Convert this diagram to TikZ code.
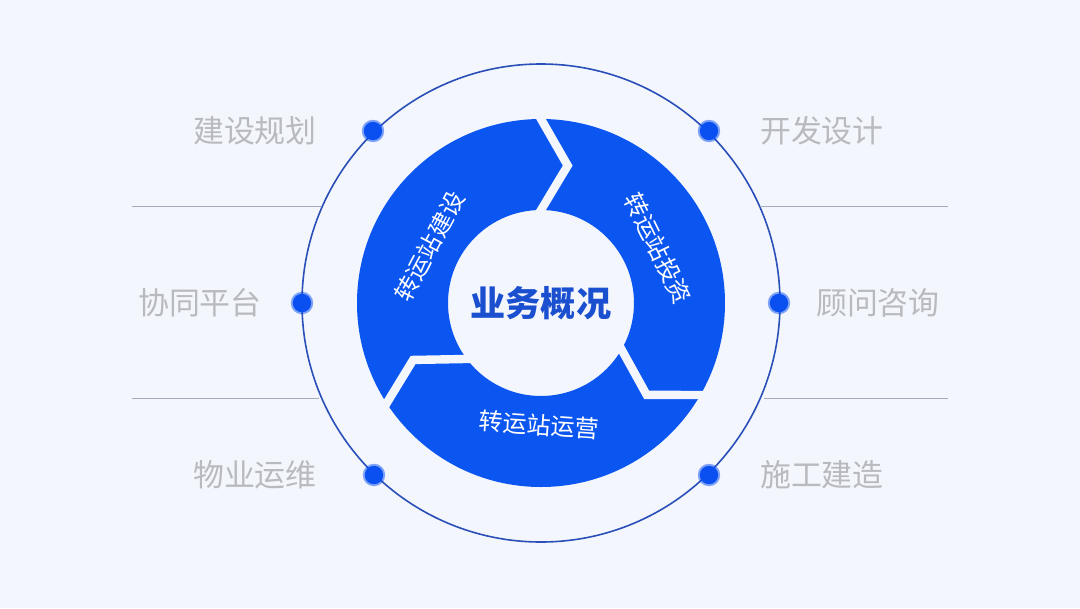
\documentclass[tikz,border=0pt]{standalone}
\usepackage{fontspec}
\setmainfont{Noto Sans CJK SC}
\usetikzlibrary{calc}
\definecolor{bgcol}{HTML}{F3F6FC}
\definecolor{ringblue}{HTML}{0B55F0}
\definecolor{circblue}{HTML}{2A4FB8}
\definecolor{dotblue}{HTML}{0A50F0}
\definecolor{labelgray}{HTML}{B9BABF}
\definecolor{linegray}{HTML}{A4ABBA}
\definecolor{coreblue}{HTML}{1A4FD0}

\begin{document}
\begin{tikzpicture}[x=0.025cm,y=0.025cm,
    item/.style={text=labelgray,font=\fontsize{22}{26}\selectfont},
    seg/.style={text=white,font=\fontsize{17}{20}\selectfont},
    dot/.style={circle,fill=dotblue,draw=dotblue,draw opacity=0.5,line width=0.1cm,inner sep=0pt,minimum size=0.46cm},
    gap/.style={draw=bgcol,line width=0.21cm,line cap=rect},
    sep/.style={draw=linegray,line width=0.025cm}]
    \fill[bgcol] (-541,-305) rectangle (539,303);
    \useasboundingbox (-541,-305) rectangle (539,303);
    % outer thin circle
    \draw[circblue,line width=0.04cm] (0,0) circle (239);
    % separators
    \draw[sep] (-409,97) -- (-220,97);
    \draw[sep] (-409,-95) -- (-222,-95);
    \draw[sep] (219,97) -- (407,97);
    \draw[sep] (223,-95) -- (407,-95);
    % ring with three chevron gaps
    \fill[ringblue,even odd rule] (0,0) circle (184) (0,0) circle (93);
    \foreach \ai/\at/\ao in {90/79/90,-30/-41/-30,217/204/213}
      \draw[gap] (\ai:93) -- (\at:140) -- (\ao:184);
    \node[font=\fontsize{25}{30}\selectfont\bfseries,text=coreblue] (core) at (0,0) {业务概况};
    \node[seg,rotate=62] (build) at (153:125) {转运站建设};
    \node[seg,rotate=-64] (invest) at (25:129) {转运站投资};
    \node[seg,rotate=-4] (operate) at (-91:122) {转运站运营};
    % dots on the circle
    \node[dot] (d1) at (-168,172) {};
    \node[dot] (d2) at (168,172) {};
    \node[dot] (d3) at (-239,0) {};
    \node[dot] (d4) at (238,0) {};
    \node[dot] (d5) at (-167,-172) {};
    \node[dot] (d6) at (168,-172) {};
    % labels
    \node[item] (plan) at (-286,172) {建设规划};
    \node[item] (design) at (281,172) {开发设计};
    \node[item] (platform) at (-341,0) {协同平台};
    \node[item] (consult) at (337,0) {顾问咨询};
    \node[item] (upkeep) at (-286,-172) {物业运维};
    \node[item] (construct) at (281,-172) {施工建造};
\end{tikzpicture}
\end{document}
